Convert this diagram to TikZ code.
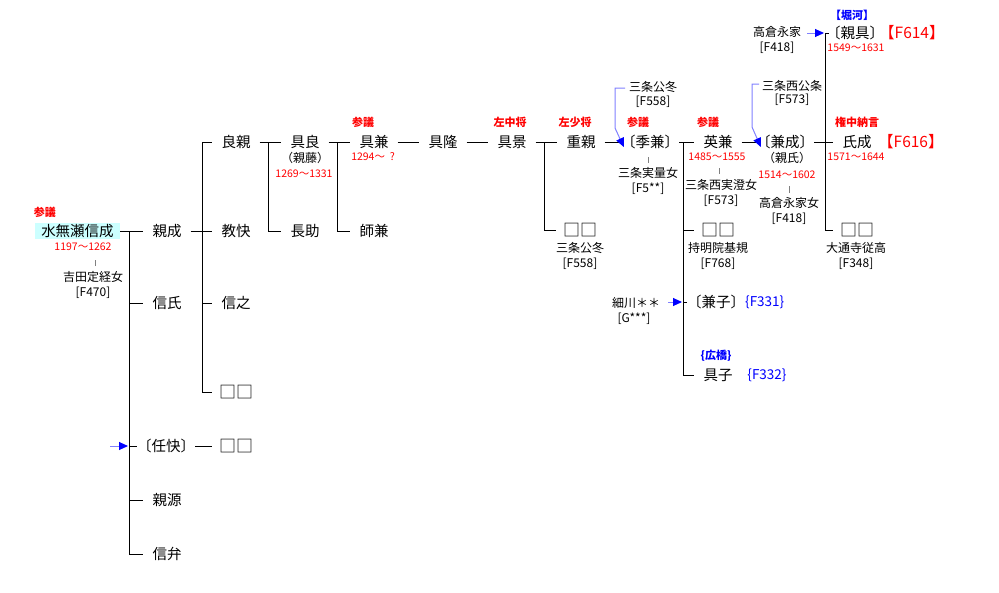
\documentclass[tikz,border=0pt]{standalone}
\usepackage{fontspec}
\setmainfont{Noto Sans CJK JP}
\usetikzlibrary{arrows.meta}
\definecolor{cybg}{HTML}{CCFFFF}
\definecolor{lblue}{HTML}{8080FF}
\definecolor{tickgray}{HTML}{808080}
\tikzset{
 nm/.style={font=\fontsize{14.5}{16}\selectfont, inner xsep=9pt, inner ysep=1pt},
 br/.style={nm, inner xsep=0pt},
 sqs/.style={font=\fontsize{17}{18}\selectfont, inner xsep=6.5pt, inner ysep=0pt},
 sm/.style={font=\fontsize{12}{13}\selectfont, inner sep=0pt},
 rl/.style={font=\fontsize{11}{12}\selectfont\bfseries, text=red, inner sep=0pt},
 dt/.style={font=\fontsize{10.5}{11}\selectfont, text=red, inner sep=0pt},
 bl/.style={font=\fontsize{11}{12}\selectfont\bfseries, text=blue, inner sep=0pt},
 fref/.style={font=\fontsize{15.5}{16}\selectfont, text=red, inner sep=0pt},
 bref/.style={font=\fontsize{13.5}{14}\selectfont, text=blue, inner sep=0pt},
 ln/.style={draw=black, line width=1pt},
 sp/.style={draw=tickgray, line width=1pt},
 barrow/.style={draw=lblue, line width=1pt, -{Triangle[length=9pt,width=8pt,color=blue]}},
}
\begin{document}
\begin{tikzpicture}[x=1pt,y=-1pt]
\useasboundingbox[fill=white] (0,0) rectangle (999,592);
% ---- names ----
\node[nm, fill=cybg, minimum width=85pt, minimum height=16pt, inner sep=0pt] (nobunari) at (77.5,231) {水無瀬信成};
\node[nm] (chikanari) at (167,231) {親成};
\node[nm] (nobuuji) at (167,303) {信氏};
\node[br] (ninkai) at (166,446) {〔任快〕};
\node[nm] (chikamoto) at (167,500) {親源};
\node[nm] (shinben) at (167,554) {信弁};
\node[nm] (yoshichika) at (236,142) {良親};
\node[nm] (kyokai) at (236,231) {教快};
\node[nm] (nobuyuki) at (236,303) {信之};
\node[sqs] (sqA) at (236,392) {□□};
\node[sqs] (sqB) at (236,446) {□□};
\node[nm] (tomoyoshi) at (305,142) {具良};
\node[nm] (nagasuke) at (305,231) {長助};
\node[nm] (tomokane) at (374,142) {具兼};
\node[nm] (morokane) at (374,231) {師兼};
\node[nm] (tomotaka) at (443,142) {具隆};
\node[nm] (tomokage) at (512,142) {具景};
\node[nm] (shigechika) at (581,142) {重親};
\node[sqs] (sqC) at (580,230) {□□};
\node[br] (suekane) at (650,142) {〔季兼〕};
\node[nm] (hidekane) at (718,142) {英兼};
\node[sqs] (sqD) at (718,230) {□□};
\node[br] (kaneko) at (716,302) {〔兼子〕};
\node[nm] (tomoko) at (718,375) {具子};
\node[br] (kanenari) at (785,142) {〔兼成〕};
\node[br, inner xsep=-3pt] (chikatomo) at (855,33) {〔親具〕};
\node[nm, inner xsep=6pt] (ujinari) at (857,142) {氏成};
% ujinari narrower box keeps the red reference clear
\node[sqs] (sqE) at (857,230) {□□};
% ---- references ----
\node[fref, anchor=west] (f614) at (879,33) {【F614】};
\node[fref, anchor=west] (f616) at (878,142) {【F616】};
\node[bref, anchor=west] (f331) at (745,302) {\{F331\}};
\node[bref] (f332) at (767,375) {\{F332\}};
\node[bl] (horikawa) at (852,15) {【堀河】};
\node[bl] (hirohashi) at (716,356) {\{広橋\}};
% ---- titles ----
\node[rl] (t1) at (45,212) {参議};
\node[rl] (t2) at (363,122) {参議};
\node[rl] (t3) at (510,122) {左中将};
\node[rl] (t4) at (575,122) {左少将};
\node[rl] (t5) at (638,122) {参議};
\node[rl] (t6) at (708,122) {参議};
\node[rl] (t7) at (857,122) {権中納言};
% ---- dates ----
\node[dt] (d1) at (83,247) {1197〜1262};
\node[dt] (d2) at (304,174) {1269〜1331};
\node[dt] (d3) at (373,157) {1294〜\ \ ?};
\node[dt] (d4) at (717,157) {1485〜1555};
\node[dt] (d5) at (787,175) {1514〜1602};
\node[dt] (d6) at (856,48) {1549〜1631};
\node[dt] (d7) at (856,157) {1571〜1644};
% ---- small notes ----
\node[sm] (alias1) at (305,158) {（親藤）};
\node[sm] (alias2) at (787,158) {（親氏）};
\node[sm] (yoshida) at (93,277) {吉田定経女};
\node[sm] (yoshidaF) at (93,293) {[F470]};
\node[sm] (kintoA) at (580,248) {三条公冬};
\node[sm] (kintoAF) at (580,264) {[F558]};
\node[sm] (kintoB) at (653,87) {三条公冬};
\node[sm] (kintoBF) at (653,102) {[F558]};
\node[sm] (sanjoS) at (648,173) {三条実量女};
\node[sm] (sanjoSF) at (648,189) {[F5**]};
\node[sm] (kinedaB) at (792,86) {三条西公条};
\node[sm] (kinedaBF) at (792,100) {[F573]};
\node[sm] (nagaie) at (777,32) {高倉永家};
\node[sm] (nagaieF) at (777,48) {[F418]};
\node[sm] (saneki) at (721,185) {三条西実澄女};
\node[sm] (sanekiF) at (721,201) {[F573]};
\node[sm] (nagaieD) at (789,203) {高倉永家女};
\node[sm] (nagaieDF) at (789,219) {[F418]};
\node[sm] (jimyo) at (718,248) {持明院基規};
\node[sm] (jimyoF) at (718,264) {[F768]};
\node[sm] (daitsu) at (856,248) {大通寺従高};
\node[sm] (daitsuF) at (856,264) {[F348]};
\node[sm] (hosokawa) at (636,303) {細川＊＊};
\node[sm] (hosokawaF) at (634,319) {[G***]};
% ---- bus coordinates ----
\coordinate (b1) at (129,231);
\coordinate (b2) at (202,142);
\coordinate (b3) at (268,142);
\coordinate (b4) at (337,142);
\coordinate (b5) at (544,142);
\coordinate (b6) at (683,142);
\coordinate (b7) at (825,142);
% ---- lines ----
\draw[ln] (nobunari.east) -- (chikanari.west);
\draw[ln] (b1) -- (b1 |- shinben.west);
\foreach \c in {nobuuji,ninkai,chikamoto,shinben} \draw[ln] (b1 |- \c.west) -- (\c.west);
\draw[ln] (chikanari.east) -- (kyokai.west);
\draw[ln] (b2 |- yoshichika.west) -- (b2 |- sqA.west);
\foreach \c in {yoshichika,nobuyuki,sqA} \draw[ln] (b2 |- \c.west) -- (\c.west);
\draw[ln] (ninkai.east) -- (sqB.west);
\draw[ln] (yoshichika.east) -- (tomoyoshi.west);
\draw[ln] (b3) -- (b3 |- nagasuke.west) -- (nagasuke.west);
\draw[ln] (tomoyoshi.east) -- (tomokane.west);
\draw[ln] (b4) -- (b4 |- morokane.west) -- (morokane.west);
\draw[ln] (tomokane.east) -- (tomotaka.west);
\draw[ln] (tomotaka.east) -- (tomokage.west);
\draw[ln] (tomokage.east) -- (shigechika.west);
\draw[ln] (b5) -- (b5 |- sqC.west) -- (sqC.west);
\draw[ln] (shigechika.east) -- (suekane.west);
\draw[ln] (suekane.east) -- (hidekane.west);
\draw[ln] (b6) -- (b6 |- tomoko.west);
\foreach \c in {sqD,kaneko,tomoko} \draw[ln] (b6 |- \c.west) -- (\c.west);
\draw[ln] (hidekane.east) -- (kanenari.west);
\draw[ln] (kanenari.east) -- ([xshift=-3pt]ujinari.west);
\draw[ln] (b7 |- chikatomo.west) -- (b7 |- sqE.west);
\foreach \c in {chikatomo,sqE} \draw[ln] (b7 |- \c.west) -- (\c.west);
% ---- spouse ticks ----
\draw[sp] ([yshift=5pt]yoshida.north -| 95,0) -- ++(0pt,6pt);
\draw[sp] ([yshift=4pt]sanjoS.north) -- ++(0pt,6pt);
\draw[sp] ([yshift=5pt]saneki.north -| 719,0) -- ++(0pt,6pt);
\draw[sp] ([yshift=4pt]nagaieD.north) -- ++(0pt,7pt);
% ---- blue arrows ----
\coordinate (a1) at (110,446);
\draw[barrow] (a1) -- ([xshift=-1pt]b1 |- ninkai.west);
\coordinate (a2) at (668,302);
\draw[barrow] (a2) -- ([xshift=-1pt]b6 |- kaneko.west);
\coordinate (a3) at (807,33);
\draw[barrow] (a3) -- ([xshift=-1pt]b7 |- chikatomo.west);
\coordinate (a4) at (625,88);
\draw[barrow] (a4) -- (615,88) -- (615,128) -- ([xshift=3pt,yshift=-5pt]suekane.west);
\coordinate (a5) at (759,84);
\draw[barrow] (a5) -- (752,84) -- (752,127) -- ([xshift=5pt,yshift=-5pt]kanenari.west);
\end{tikzpicture}
\end{document}
